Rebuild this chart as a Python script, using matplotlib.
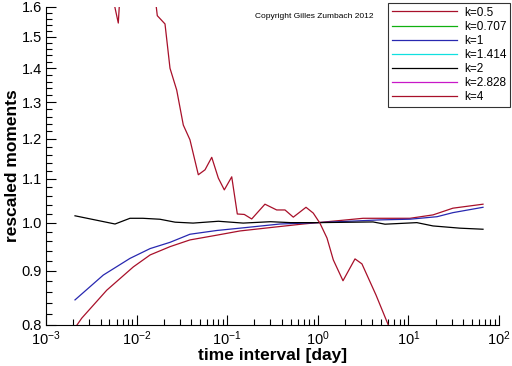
import numpy as np
import matplotlib.pyplot as plt
from matplotlib.lines import Line2D
from matplotlib.ticker import FixedLocator, NullFormatter, LogLocator

# k=0.5 (smooth, dark red)
x_k05 = [0.00209, 0.00248, 0.00468, 0.0092, 0.0141, 0.0234, 0.0388, 0.0766, 0.138,
         0.323, 0.687, 1.0, 3.16, 10.4, 18.7, 31.0, 66.6]
y_k05 = [0.795, 0.812, 0.863, 0.908, 0.932, 0.949, 0.963, 0.973, 0.982,
         0.990, 0.997, 1.0, 1.0095, 1.0095, 1.017, 1.032, 1.041]

# k=1 (blue)
x_k1 = [0.00209, 0.00429, 0.00845, 0.0141, 0.0234, 0.0388, 0.0766, 0.138, 0.383,
        1.0, 4.86, 10.4, 20.7, 31.0, 66.6]
y_k1 = [0.845, 0.892, 0.925, 0.945, 0.958, 0.975, 0.983, 0.988, 0.997,
        1.0, 1.006, 1.0075, 1.013, 1.022, 1.034]

# k=2 (black)
x_k2 = [0.00209, 0.00578, 0.00845, 0.0117, 0.0181, 0.0266, 0.042, 0.08, 0.15,
        0.3, 0.5, 1.0, 4.07, 5.52, 12.4, 18.7, 37.0, 66.6]
y_k2 = [1.015, 0.997, 1.0095, 1.0095, 1.0074, 1.001, 0.999, 1.003, 0.999,
        1.002, 1.0, 1.0, 1.0015, 0.9966, 1.0, 0.9928, 0.988, 0.9857]

# k=4 (noisy, dark red)
x_k4 = [0.00209, 0.0025, 0.003, 0.0036, 0.0044, 0.0053, 0.00628, 0.0074, 0.0088,
        0.0104, 0.0124, 0.0146, 0.01692, 0.02058, 0.02337, 0.02771, 0.03277,
        0.0388, 0.048, 0.0569, 0.0675, 0.0798, 0.0929, 0.1122, 0.1293, 0.1544,
        0.1864, 0.261, 0.3516, 0.4345, 0.5365, 0.741, 0.891, 1.057, 1.263,
        1.483, 1.897, 2.574, 3.07, 4.39, 7.2]
y_k4 = [2.6, 2.4, 2.2, 2.0, 1.85, 1.653, 1.545, 1.96, 2.1, 1.9, 1.8, 1.75,
        1.570, 1.542, 1.400, 1.335, 1.237, 1.198, 1.110, 1.122, 1.153, 1.102,
        1.074, 1.105, 1.019, 1.018, 1.008, 1.041, 1.028, 1.028, 1.012, 1.034,
        1.021, 0.9986, 0.967, 0.922, 0.881, 0.924, 0.914, 0.854, 0.77]

labels = ["k=0.5", "k=0.707", "k=1", "k=1.414", "k=2", "k=2.828", "k=4"]
colors = ["#a8102a", "#10b010", "#2828b0", "#10e0e0", "#000000", "#c818c8", "#a8102a"]

yticks = [0.8, 0.9, 1.0, 1.1, 1.2, 1.3, 1.4, 1.5, 1.6]

plt.rcParams["font.family"] = ["Liberation Sans", "DejaVu Sans"]
fig = plt.figure(figsize=(5.12, 3.66), dpi=100)
ax = fig.add_axes([46 / 512, 41 / 366, 453 / 512, 318 / 366])

lw = 0.9
ax.plot(x_k05, y_k05, color=colors[0], lw=lw)
ax.plot(x_k1, y_k1, color=colors[2], lw=lw)
ax.plot(x_k2, y_k2, color=colors[4], lw=lw)
ax.plot(x_k4, y_k4, color=colors[6], lw=lw)

ax.set_xscale("log")
ax.set_yscale("log")
ax.set_xlim(1e-3, 1e2)
ax.set_ylim(0.8, 1.6)

ax.yaxis.set_major_locator(FixedLocator(yticks))
ax.set_yticklabels([f"{v:.1f}" for v in yticks])
ax.yaxis.set_minor_locator(FixedLocator(np.arange(0.8, 1.601, 0.02)))
ax.yaxis.set_minor_formatter(NullFormatter())
ax.xaxis.set_major_locator(LogLocator(base=10, numticks=10))
ax.xaxis.set_minor_locator(LogLocator(base=10, subs=np.arange(2, 10), numticks=20))
ax.xaxis.set_minor_formatter(NullFormatter())

ax.tick_params(which="major", direction="in", length=7, width=0.8, labelsize=10.5, pad=3)
ax.tick_params(which="minor", direction="in", length=4, width=0.8)
ax.spines["top"].set_visible(False)
ax.spines["right"].set_visible(False)

ax.set_xlabel("time interval [day]", fontsize=12.5, fontweight="bold", labelpad=0)
ax.set_ylabel("rescaled moments", fontsize=12.5, fontweight="bold", labelpad=1)

fig.text(255 / 512, 1 - 17 / 366, "Copyright Gilles Zumbach 2012", fontsize=6,
         va="center", ha="left")

handles = [Line2D([], [], color=c, lw=lw) for c in colors]
leg = fig.legend(handles, labels, loc="upper right",
                 bbox_to_anchor=(510 / 512, 1 - 3 / 366), fontsize=8.5,
                 frameon=True, fancybox=False, edgecolor="black",
                 handlelength=5.5, handletextpad=0.6, labelspacing=0.18,
                 borderpad=0.3, borderaxespad=0)
leg.get_frame().set_linewidth(0.8)

fig.savefig("out.png", dpi=100)
